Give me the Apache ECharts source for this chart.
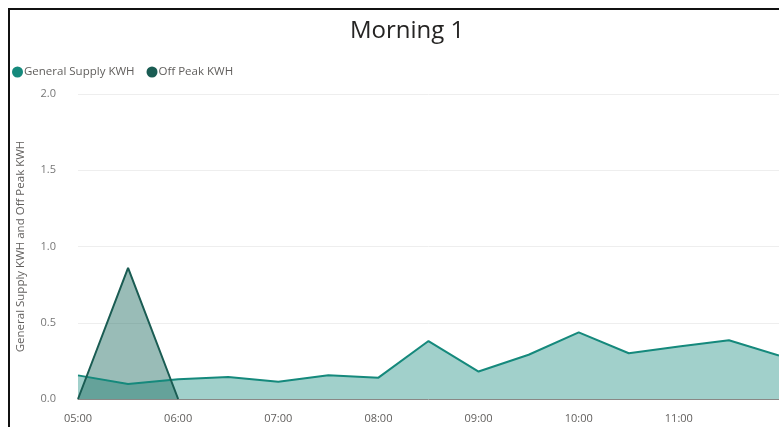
<!DOCTYPE html>
<html>
<head>
<meta charset="utf-8">
<script src="https://cdn.jsdelivr.net/npm/echarts@6/dist/echarts.min.js"></script>
<style>
  html, body { margin: 0; padding: 0; background: #fff; }
  #chart { width: 779px; height: 427px; }
</style>
</head>
<body>
<div id="chart"></div>
<script>
// half-hour slots, 05:00 .. 12:00
var times = ['05:00', '05:30', '06:00', '06:30', '07:00', '07:30', '08:00', '08:30',
  '09:00', '09:30', '10:00', '10:30', '11:00', '11:30', '12:00'];
var generalSupply = [0.155, 0.098, 0.13, 0.144, 0.113, 0.155, 0.14, 0.38,
  0.18, 0.29, 0.437, 0.30, 0.345, 0.385, 0.285];
var offPeak = [0, 0.86, 0, null, null, null, null, null,
  null, null, null, null, null, null, null];
var yTicks = [0, 0.5, 1.0, 1.5, 2.0];

var chart = echarts.init(document.getElementById('chart'));

var option = {
  animation: false,
  title: {
    text: 'Morning 1',
    left: 345,
    top: 14,
    textStyle: { fontFamily: 'Open Sans', fontSize: 24, fontWeight: 'normal', color: '#252423' }
  },
  legend: {
    left: 7,
    top: 61,
    icon: 'circle',
    itemWidth: 11,
    itemHeight: 11,
    itemGap: 12,
    textStyle: { fontFamily: 'Open Sans', fontSize: 11.5, color: '#605e5c', padding: [0, 0, 0, -4] },
    data: ['General Supply KWH', 'Off Peak KWH']
  },
  grid: { left: 78, right: -6, top: 94, bottom: 28 },
  xAxis: {
    type: 'category',
    boundaryGap: false,
    data: times,
    axisTick: { show: false },
    axisLine: { lineStyle: { color: '#8a8886', width: 1 } },
    axisLabel: {
      margin: 14,
      fontFamily: 'Open Sans',
      fontSize: 11,
      color: '#605e5c',
      interval: function (i) { return i % 2 === 0 && i < 14; }
    }
  },
  yAxis: {
    type: 'value',
    min: yTicks[0],
    max: yTicks[yTicks.length - 1],
    interval: 0.5,
    name: 'General Supply KWH and Off Peak KWH',
    nameLocation: 'middle',
    nameGap: 51,
    nameTextStyle: { fontFamily: 'Open Sans', fontSize: 11.5, color: '#605e5c' },
    axisLine: { show: false },
    axisTick: { show: false },
    axisLabel: {
      margin: 22,
      fontFamily: 'Open Sans',
      fontSize: 11,
      color: '#777',
      formatter: function (v) { return v.toFixed(1); }
    },
    splitLine: { lineStyle: { color: '#eeeeee', width: 1 } }
  },
  graphic: [
    { type: 'line', shape: { x1: 9, y1: 9, x2: 9, y2: 427 }, style: { stroke: '#111', lineWidth: 2 } },
    { type: 'line', shape: { x1: 8, y1: 9, x2: 779, y2: 9 }, style: { stroke: '#111', lineWidth: 2 } }
  ],
  series: [
    {
      name: 'General Supply KWH',
      type: 'line',
      data: generalSupply,
      symbol: 'none',
      color: '#15897c',
      lineStyle: { width: 2, color: '#15897c' },
      areaStyle: { color: '#15897c', opacity: 0.4 }
    },
    {
      name: 'Off Peak KWH',
      type: 'line',
      data: offPeak,
      symbol: 'none',
      color: '#1a5c53',
      lineStyle: { width: 2, color: '#1a5c53' },
      areaStyle: { color: '#1c6a60', opacity: 0.45 }
    }
  ]
};

chart.setOption(option);
</script>
</body>
</html>
